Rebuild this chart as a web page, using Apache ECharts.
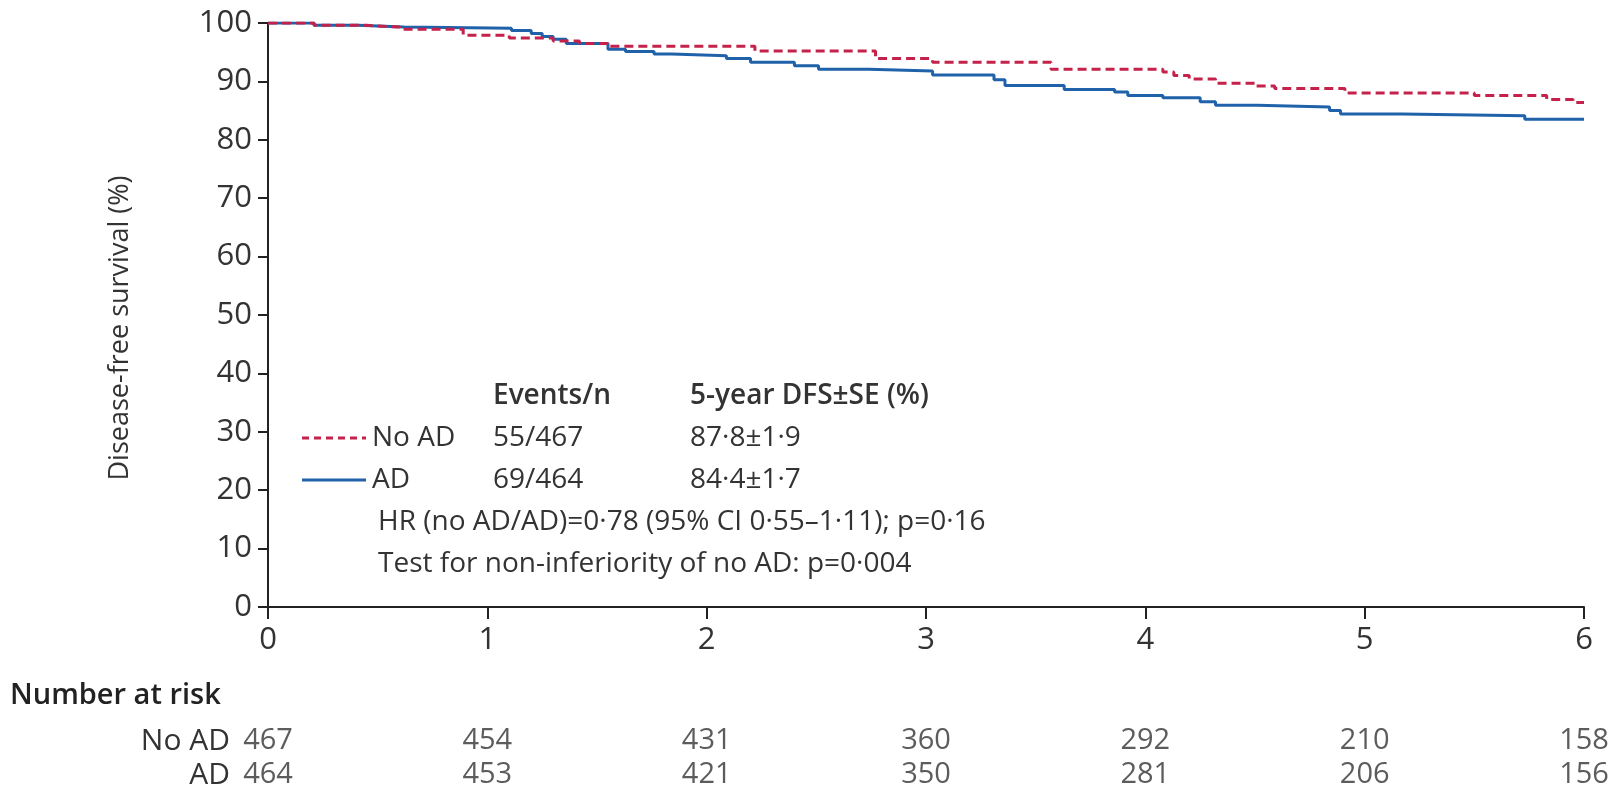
<!DOCTYPE html>
<html><head><meta charset="utf-8">
<script src="https://cdn.jsdelivr.net/npm/echarts@6/dist/echarts.min.js"></script>
<style>html,body{margin:0;padding:0;background:#fff}#c{width:1621px;height:796px}</style>
</head><body><div id="c"></div>
<script>
// Kaplan-Meier step points [years, % disease-free]
const noADCurve = [[0,100],[0.21,99.6],[0.45,99.3],[0.6,98.95],[0.89,97.9],[1.1,97.45],[1.3,96.9],[1.42,96.5],[1.55,96.0],[2.22,95.2],[2.77,93.9],[3.03,93.3],[3.57,92.1],[4.08,91.6],[4.13,91.0],[4.2,90.4],[4.32,89.7],[4.5,89.2],[4.59,88.8],[4.91,88.0],[5.5,87.6],[5.83,86.9],[5.95,86.4],[6.0,86.4]];
const adCurve = [[0,100],[0.21,99.6],[0.41,99.3],[0.62,99.1],[1.11,98.7],[1.2,98.2],[1.25,97.7],[1.3,97.2],[1.36,96.5],[1.55,95.5],[1.63,95.1],[1.76,94.7],[1.84,94.4],[2.09,93.9],[2.2,93.3],[2.4,92.7],[2.51,92.1],[2.74,91.8],[3.03,91.1],[3.31,90.3],[3.36,89.3],[3.63,88.6],[3.86,88.2],[3.92,87.6],[4.08,87.2],[4.25,86.5],[4.32,85.9],[4.51,85.6],[4.84,85.0],[4.89,84.4],[5.17,84.1],[5.73,83.5],[6.0,83.5]];
const groups = ['No AD', 'AD'];
const riskTimes = [0,1,2,3,4,5,6];
const riskNoAD = [467,454,431,360,292,210,158];
const riskAD = [464,453,421,350,281,206,156];
const eventsN = ['55/467', '69/464'];
const dfs5 = ['87·8±1·9', '84·4±1·7'];
const hrText = 'HR (no AD/AD)=0·78 (95% CI 0·55–1·11); p=0·16';
const testText = 'Test for non-inferiority of no AD: p=0·004';
const yAxisTitle = 'Disease-free survival (%)';
const riskTitle = 'Number at risk';

const FONT = '"Open Sans"';
const RED = '#c4224a', BLUE = '#1f62aa', INK = '#333';

const riskData = [];
riskTimes.forEach((t, i) => {
  riskData.push([t, groups[0], riskNoAD[i]]);
  riskData.push([t, groups[1], riskAD[i]]);
});

const chart = echarts.init(document.getElementById('c'), null, {renderer: 'canvas'});
const txt = (text, x, y, opts) => Object.assign({
  type: 'text', x: x, y: y,
  style: Object.assign({text: text, fill: INK, font: '28px ' + FONT, verticalAlign: 'middle', align: 'left'}, opts || {})
});

chart.setOption({
  animation: false,
  backgroundColor: '#fff',
  grid: [
    {left: 268, right: 37, top: 23, height: 584},
    {left: 268, right: 37, top: 724, height: 68}
  ],
  xAxis: [
    {gridIndex: 0, type: 'value', min: 0, max: 6, interval: 1,
     axisLine: {show: true, lineStyle: {color: '#222', width: 2}},
     axisTick: {show: true, length: 12, lineStyle: {color: '#222', width: 2}},
     axisLabel: {fontFamily: FONT, fontSize: 31, color: INK, margin: 18},
     splitLine: {show: false}},
    {gridIndex: 1, type: 'value', min: 0, max: 6, show: false}
  ],
  yAxis: [
    {gridIndex: 0, type: 'value', min: 0, max: 100, interval: 10,
     axisLine: {show: true, lineStyle: {color: '#222', width: 2}},
     axisTick: {show: true, length: 10, lineStyle: {color: '#222', width: 2}},
     axisLabel: {fontFamily: FONT, fontSize: 31, color: INK, margin: 16},
     splitLine: {show: false},
     name: yAxisTitle, nameLocation: 'middle', nameGap: 134, nameRotate: 90,
     nameTextStyle: {fontFamily: FONT, fontSize: 27, color: INK, padding: [0, 26, 0, 0]}},
    {gridIndex: 1, type: 'category', data: groups, inverse: true,
     axisLine: {show: false}, axisTick: {show: false}, splitLine: {show: false},
     axisLabel: {interval: 0, fontFamily: FONT, fontSize: 30, color: INK, margin: 38}}
  ],
  series: [
    {name: 'No AD', type: 'line', step: 'end', xAxisIndex: 0, yAxisIndex: 0,
     data: noADCurve, showSymbol: false, z: 3,
     lineStyle: {color: RED, width: 3, type: [9, 5]}},
    {name: 'AD', type: 'line', step: 'end', xAxisIndex: 0, yAxisIndex: 0,
     data: adCurve, showSymbol: false, z: 2,
     lineStyle: {color: BLUE, width: 3}},
    {type: 'scatter', xAxisIndex: 1, yAxisIndex: 1, data: riskData, symbolSize: 0,
     label: {show: true, position: 'inside', formatter: p => String(p.value[2]),
             fontFamily: FONT, fontSize: 29, color: INK}}
  ],
  graphic: [
    txt('Events/n', 493, 396, {font: '600 28px ' + FONT}),
    txt('5-year DFS±SE (%)', 690, 396, {font: '600 28px ' + FONT}),
    {type: 'line', shape: {x1: 302, y1: 438, x2: 366, y2: 438}, style: {stroke: RED, lineWidth: 3, lineDash: [7, 5]}},
    txt(groups[0], 372, 438), txt(eventsN[0], 493, 438), txt(dfs5[0], 690, 438),
    {type: 'line', shape: {x1: 302, y1: 480, x2: 366, y2: 480}, style: {stroke: BLUE, lineWidth: 3}},
    txt(groups[1], 372, 480), txt(eventsN[1], 493, 480), txt(dfs5[1], 690, 480),
    txt(hrText, 378, 522),
    txt(testText, 378, 564),
    txt(riskTitle, 10, 696, {font: '600 29px ' + FONT, fill: '#222'})
  ]
});
</script></body></html>
